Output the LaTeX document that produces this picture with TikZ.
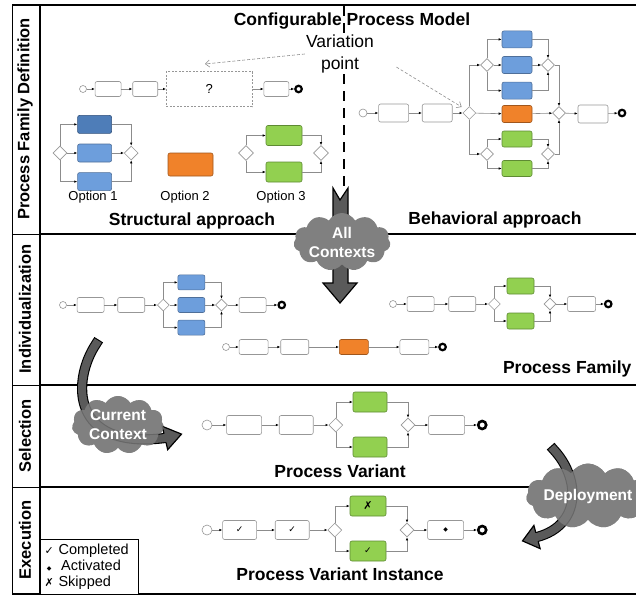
\documentclass[tikz,border=0pt]{standalone}
\usepackage{fontspec}
\setmainfont{Liberation Sans}
\newfontfamily\symf{DejaVu Sans}
\usetikzlibrary{shapes,arrows.meta,calc,positioning}

\definecolor{taskline}{HTML}{979797}
\definecolor{flowline}{HTML}{8C8C8C}
\definecolor{optblue}{HTML}{6D9EDC}
\definecolor{blueline}{HTML}{4F6F99}
\definecolor{deepblue}{HTML}{4E7DB8}
\definecolor{deepline}{HTML}{2F4F7A}
\definecolor{optorange}{HTML}{F0822A}
\definecolor{orangeline}{HTML}{A0561C}
\definecolor{optgreen}{HTML}{92D050}
\definecolor{greenline}{HTML}{5E8A33}
\definecolor{cloudgray}{HTML}{808080}
\definecolor{arrowgray}{HTML}{5A5A5A}

\newcommand{\headfont}{\fontsize{17.5}{21}\selectfont\bfseries}
\newcommand{\lanefont}{\fontsize{16.5}{20}\selectfont\bfseries}
\newcommand{\optfont}{\fontsize{13}{15}\selectfont}
\newcommand{\vpfont}{\fontsize{17.5}{22}\selectfont}
\newcommand{\cloudfont}{\fontsize{15.5}{19}\selectfont\bfseries}
\newcommand{\legfont}{\fontsize{14.5}{17}\selectfont}
\newcommand{\ticksym}{{\symf\fontsize{9}{9}\selectfont ✓}}
\newcommand{\skipsym}{{\symf\fontsize{11}{11}\selectfont ✗}}
\newcommand{\actsym}{{\symf\fontsize{6}{6}\selectfont ◆}}

\begin{document}
\begin{tikzpicture}[x=1pt, y=-1pt,
  task/.style={rectangle, rounded corners=2pt, draw=taskline, fill=white, line width=0.6pt, inner sep=0pt, minimum width=27pt, minimum height=15pt},
  bigtask/.style={task, minimum width=35pt, minimum height=19pt},
  bluetask/.style={task, fill=optblue, draw=blueline},
  deeptask/.style={task, fill=deepblue, draw=deepline},
  orangetask/.style={task, fill=optorange, draw=orangeline},
  greentask/.style={task, fill=optgreen, draw=greenline},
  vpbox/.style={rectangle, draw=taskline, dash pattern=on 2pt off 1.5pt, line width=0.6pt, minimum width=86pt, minimum height=35pt, inner sep=0pt, font=\optfont},
  gw/.style={diamond, draw=taskline, fill=white, line width=0.6pt, inner sep=0pt, minimum size=13pt},
  startev/.style={circle, draw=taskline, fill=white, line width=0.6pt, inner sep=0pt, minimum size=7pt},
  endev/.style={circle, draw=black, line width=2.2pt, inner sep=0pt, minimum size=6.5pt},
  flow/.style={draw=flowline, line width=0.6pt, -{Latex[length=3pt,width=2.5pt,color=black]}},
  hint/.style={draw=black!45, line width=0.6pt, dash pattern=on 3pt off 2pt, -{Straight Barb[length=4pt,width=7pt]}},
  head/.style={font=\headfont},
  lane/.style={rotate=90, font=\lanefont},
  optlabel/.style={font=\optfont, inner sep=1pt},
  vlabel/.style={font=\vpfont, align=center, fill=white, inner sep=1pt},
  legend/.style={draw=black, fill=white, line width=1pt, font=\legfont, align=left, text width=90pt, minimum height=55pt, inner sep=4pt},
  ctx/.style={cloud, cloud puffs=11, cloud puff arc=120, cloud ignores aspect, fill=cloudgray, minimum width=92pt, minimum height=58pt, inner sep=0pt, text=white, font=\cloudfont, align=center},
  ctxtop/.style={ctx, fill opacity=0.8, text opacity=1},
  bigarrow/.style={fill=arrowgray, draw=black, line width=1.2pt},
  bodyarrow/.style={draw=black, line width=1.1pt, double=arrowgray, double distance=8pt, line cap=rect},
  divider/.style={draw=black, line width=2.5pt, dash pattern=on 10pt off 7pt}
  ]
  \useasboundingbox (0,0) rectangle (636,597);

  % lanes
  \draw[line width=1pt] (12,5) -- (12,594);
  \draw[line width=1.5pt] (12,5) -- (636,5);
  \foreach \y in {234,385,487} {
    \draw[line width=1pt] (12,\y) -- (40,\y);
    \draw[line width=2.5pt] (40,\y) -- (636,\y);
  }
  \draw[line width=2.5pt] (12,594) -- (636,594);
  \draw[line width=2.5pt] (40,5) -- (40,595);

  \node[lane] (lane1) at (25,119) {Process Family Definition};
  \node[lane] (lane2) at (25,309) {Individualization};
  \node[lane] (lane3) at (25,436) {Selection};
  \node[lane] (lane4) at (25,540) {Execution};

  % configurable model
  \coordinate (divtop) at (344,6);
  \coordinate (divbot) at (344,186);
  \draw[divider] (divtop) -- (divbot);
  \node[head] (title) at (352,21) {Configurable Process Model};
  \node[vlabel] (vlab) at (340,54) {Variation\\point};
  \node[head] (struct) at (192,221) {Structural approach};
  \node[head] (behav) at (495,220) {Behavioral approach};

  % structural approach
  \node[startev] (m0) at (83,89) {};
  \node[task, minimum width=26pt, right=8pt of m0] (m1) {};
  \node[task, minimum width=25pt, right=11pt of m1] (m2) {};
  \node[vpbox, right=8pt of m2] (vp) {?};
  \node[task, minimum width=25pt, right=11pt of vp] (m3) {};
  \node[endev, right=5pt of m3] (me) {};
  \draw[flow] (m0) -- (m1);
  \draw[flow] (m1) -- (m2);
  \draw[flow] (m2) -- (vp);
  \draw[flow] (vp) -- (m3);
  \draw[flow] (m3) -- (me);

  \node[gw, minimum size=14pt] (o1s) at (60,153) {};
  \node[bluetask, minimum width=34pt, minimum height=18pt, right=10pt of o1s] (o1b) {};
  \node[deeptask, minimum width=34pt, minimum height=18pt, above=10pt of o1b] (o1a) {};
  \node[bluetask, minimum width=34pt, minimum height=18pt, below=10pt of o1b] (o1c) {};
  \node[gw, minimum size=14pt, right=12pt of o1b] (o1j) {};
  \node[optlabel] (o1l) at (93,197) {Option 1};
  \draw[flow] (o1s.north) |- (o1a);
  \draw[flow] (o1s) -- (o1b);
  \draw[flow] (o1s.south) |- (o1c);
  \draw[flow] (o1a) -| (o1j.north);
  \draw[flow] (o1b) -- (o1j);
  \draw[flow] (o1c) -| (o1j.south);

  \node[orangetask, minimum width=45pt, minimum height=23pt] (o2) at (190.5,164.5) {};
  \node[optlabel] (o2l) at (185,197) {Option 2};

  \node[gw, minimum size=15pt] (o3s) at (246,153) {};
  \node[greentask, minimum width=36pt, minimum height=20pt] (o3a) at (284,135.5) {};
  \node[greentask, minimum width=36pt, minimum height=20pt] (o3b) at (284,172) {};
  \node[gw, minimum size=15pt] (o3j) at (321,153) {};
  \node[optlabel] (o3l) at (281,197) {Option 3};
  \draw[flow] (o3s.north) |- (o3a);
  \draw[flow] (o3s.south) |- (o3b);
  \draw[flow] (o3a) -| (o3j.north);
  \draw[flow] (o3b) -| (o3j.south);

  % behavioral approach
  \node[startev, minimum size=8pt] (b0) at (363,113) {};
  \node[task, minimum width=30pt, minimum height=18pt, right=11pt of b0] (b1) {};
  \node[task, minimum width=30pt, minimum height=18pt, right=13pt of b1] (b2) {};
  \node[gw, right=10pt of b2] (bA) {};
  \node[gw] (bB) at (487,65) {};
  \node[bluetask, minimum width=30pt, minimum height=17pt] (bb2) at (517,65) {};
  \node[bluetask, minimum width=30pt, minimum height=17pt, above=8pt of bb2] (bb1) {};
  \node[bluetask, minimum width=30pt, minimum height=17pt, below=8pt of bb2] (bb3) {};
  \node[gw] (bC) at (548,65) {};
  \node[orangetask, minimum width=30pt, minimum height=17pt] (bo) at (517,114) {};
  \node[gw] (bE) at (487,154) {};
  \node[greentask, minimum width=30pt, minimum height=16pt] (bg1) at (517,139) {};
  \node[greentask, minimum width=30pt, minimum height=16pt] (bg2) at (517,168.5) {};
  \node[gw] (bF) at (548,154) {};
  \node[gw] (bD) at (559,113) {};
  \node[task, minimum width=30pt, minimum height=18pt] (b3) at (593,114) {};
  \node[endev] (be) at (622,113) {};
  \draw[flow] (b0) -- (b1);
  \draw[flow] (b1) -- (b2);
  \draw[flow] (b2) -- (bA);
  \draw[flow] (bA.north) |- (bB);
  \draw[flow] (bB.north) |- (bb1);
  \draw[flow] (bB) -- (bb2);
  \draw[flow] (bB.south) |- (bb3);
  \draw[flow] (bb1) -| (bC.north);
  \draw[flow] (bb2) -- (bC);
  \draw[flow] (bb3) -| (bC.south);
  \draw[flow] (bA) -- (bo);
  \draw[flow] (bo) -- (bD);
  \draw[flow] (bA.south) |- (bE);
  \draw[flow] (bE.north) |- (bg1);
  \draw[flow] (bE.south) |- (bg2);
  \draw[flow] (bg1) -| (bF.north);
  \draw[flow] (bg2) -| (bF.south);
  \draw[flow] (bC) -| (bD.north);
  \draw[flow] (bF) -| (bD.south);
  \draw[flow] (bD) -- (b3);
  \draw[flow] (b3) -- (be);

  \coordinate (vpTip) at (205,64);
  \draw[hint] (vlab.west) -- (vpTip);
  \draw[hint, shorten <=25pt, shorten >=5pt] (vlab.east) -- (bA.north west);

  % individualization
  \node[startev] (i0) at (63,305) {};
  \node[task, right=10pt of i0] (i1) {};
  \node[task, right=13pt of i1] (i2) {};
  \node[gw, minimum size=12pt, right=12pt of i2] (iA) {};
  \node[bluetask, right=8pt of iA] (ib2) {};
  \node[bluetask, above=7pt of ib2] (ib1) {};
  \node[bluetask, below=7pt of ib2] (ib3) {};
  \node[gw, minimum size=12pt, right=10pt of ib2] (iB) {};
  \node[task, right=11pt of iB] (i3) {};
  \node[endev, right=11pt of i3] (ie) {};
  \draw[flow] (i0) -- (i1);
  \draw[flow] (i1) -- (i2);
  \draw[flow] (i2) -- (iA);
  \draw[flow] (iA.north) |- (ib1);
  \draw[flow] (iA) -- (ib2);
  \draw[flow] (iA.south) |- (ib3);
  \draw[flow] (ib1) -| (iB.north);
  \draw[flow] (ib2) -- (iB);
  \draw[flow] (ib3) -| (iB.south);
  \draw[flow] (iB) -- (i3);
  \draw[flow] (i3) -- (ie);

  \node[startev] (j0) at (393,304) {};
  \node[task, right=10pt of j0] (j1) {};
  \node[task, right=14pt of j1] (j2) {};
  \node[gw, minimum size=12pt, right=12pt of j2] (jA) {};
  \node[greentask, minimum height=16pt] (jg1) at (520.5,286) {};
  \node[greentask, minimum height=16pt] (jg2) at (520.5,321) {};
  \node[gw, minimum size=12pt] (jB) at (550,304) {};
  \node[task, minimum width=28pt, right=11pt of jB] (j3) {};
  \node[endev, right=8pt of j3] (je) {};
  \draw[flow] (j0) -- (j1);
  \draw[flow] (j1) -- (j2);
  \draw[flow] (j2) -- (jA);
  \draw[flow] (jA.north) |- (jg1);
  \draw[flow] (jA.south) |- (jg2);
  \draw[flow] (jg1) -| (jB.north);
  \draw[flow] (jg2) -| (jB.south);
  \draw[flow] (jB) -- (j3);
  \draw[flow] (j3) -- (je);

  \node[startev] (k0) at (226,347) {};
  \node[task, minimum width=29pt, right=9pt of k0] (k1) {};
  \node[task, minimum width=28pt, right=12pt of k1] (k2) {};
  \node[orangetask, minimum width=29pt, right=30pt of k2] (ko) {};
  \node[task, minimum width=29pt, right=31pt of ko] (k3) {};
  \node[endev, right=9pt of k3] (ke) {};
  \draw[flow] (k0) -- (k1);
  \draw[flow] (k1) -- (k2);
  \draw[flow] (k2) -- (ko);
  \draw[flow] (ko) -- (k3);
  \draw[flow] (k3) -- (ke);

  \node[head, anchor=east] (family) at (635,369) {Process Family};

  % selection
  \node[startev, minimum size=10pt] (v0) at (207,425) {};
  \node[bigtask, right=14pt of v0] (v1) {};
  \node[bigtask, minimum width=34pt, right=17pt of v1] (v2) {};
  \node[gw, minimum size=14pt, right=15pt of v2] (vA) {};
  \node[greentask, minimum width=34pt, minimum height=20pt] (vg1) at (370,402) {};
  \node[greentask, minimum width=34pt, minimum height=20pt] (vg2) at (370,447) {};
  \node[gw, minimum size=14pt] (vB) at (408,425) {};
  \node[bigtask, minimum width=36pt, right=13pt of vB] (v3) {};
  \node[endev, minimum size=8pt, line width=2.6pt, right=12pt of v3] (ve) {};
  \draw[flow] (v0) -- (v1);
  \draw[flow] (v1) -- (v2);
  \draw[flow] (v2) -- (vA);
  \draw[flow] (vA.north) |- (vg1);
  \draw[flow] (vA.south) |- (vg2);
  \draw[flow] (vg1) -| (vB.north);
  \draw[flow] (vg2) -| (vB.south);
  \draw[flow] (vB) -- (v3);
  \draw[flow] (v3) -- (ve);
  \node[head] (variant) at (340,471) {Process Variant};

  % execution
  \node[startev, minimum size=10pt] (x0) at (207,530) {};
  \node[bigtask, minimum width=34pt, right=10pt of x0] (x1) {\ticksym};
  \node[bigtask, minimum width=34pt, right=18pt of x1] (x2) {\ticksym};
  \node[gw, minimum size=14pt, right=18pt of x2] (xA) {};
  \node[greentask, minimum width=36pt, minimum height=20pt] (xg1) at (368,506) {\skipsym};
  \node[greentask, minimum width=36pt, minimum height=20pt] (xg2) at (368,551) {\ticksym};
  \node[gw, minimum size=14pt] (xB) at (407,530) {};
  \node[bigtask, minimum width=36pt, right=13pt of xB] (x3) {\actsym};
  \node[endev, minimum size=8pt, line width=2.6pt, right=13pt of x3] (xe) {};
  \draw[flow] (x0) -- (x1);
  \draw[flow] (x1) -- (x2);
  \draw[flow] (x2) -- (xA);
  \draw[flow] (xA.north) |- (xg1);
  \draw[flow] (xA.south) |- (xg2);
  \draw[flow] (xg1) -| (xB.north);
  \draw[flow] (xg2) -| (xB.south);
  \draw[flow] (xB) -- (x3);
  \draw[flow] (x3) -- (xe);
  \node[head] (instance) at (340,574) {Process Variant Instance};

  \node[legend, anchor=north west] (leg) at (40,539) {{\symf\fontsize{11}{11}\selectfont ✓} Completed\\[-1pt]\,\actsym\ \ Activated\\[-1pt]\skipsym\ Skipped};

  % contexts and deployment
  \draw[bigarrow] (333,188) -- (340,200) -- (348,188) -- (348,283) -- (357,283) -- (340,303) -- (323,283) -- (333,283) -- cycle;
  \node[ctx] (allctx) at (342,242) {All\\Contexts};

  \node[ctx] (curBack) at (118,425) {Current\\Context};
  \node[ctx, minimum width=106pt, minimum height=65pt] (depBack) at (588,496) {Deployment};

  \coordinate (curTail) at (96,344);
  \coordinate (curBase) at (165,438);
  \draw[bodyarrow] (curTail) .. controls (72,380) and (70,450) .. (curBase);
  \filldraw[bigarrow] (166.0,442.4) -- (167.7,449.7) -- (181.5,434.1) -- (162.3,426.3) -- (164.0,433.6);

  \coordinate (depTail) at (554,450);
  \coordinate (depBase) at (537,537);
  \draw[bodyarrow] (depTail) .. controls (580,478) and (582,525) .. (depBase);
  \filldraw[bigarrow] (538.2,541.3) -- (540.1,548.6) -- (522.5,540.9) -- (533.9,525.4) -- (535.8,532.7);

  \node[ctxtop] (cur) at (118,425) {Current\\Context};
  \node[ctxtop, minimum width=106pt, minimum height=65pt] (dep) at (588,496) {Deployment};
\end{tikzpicture}
\end{document}
